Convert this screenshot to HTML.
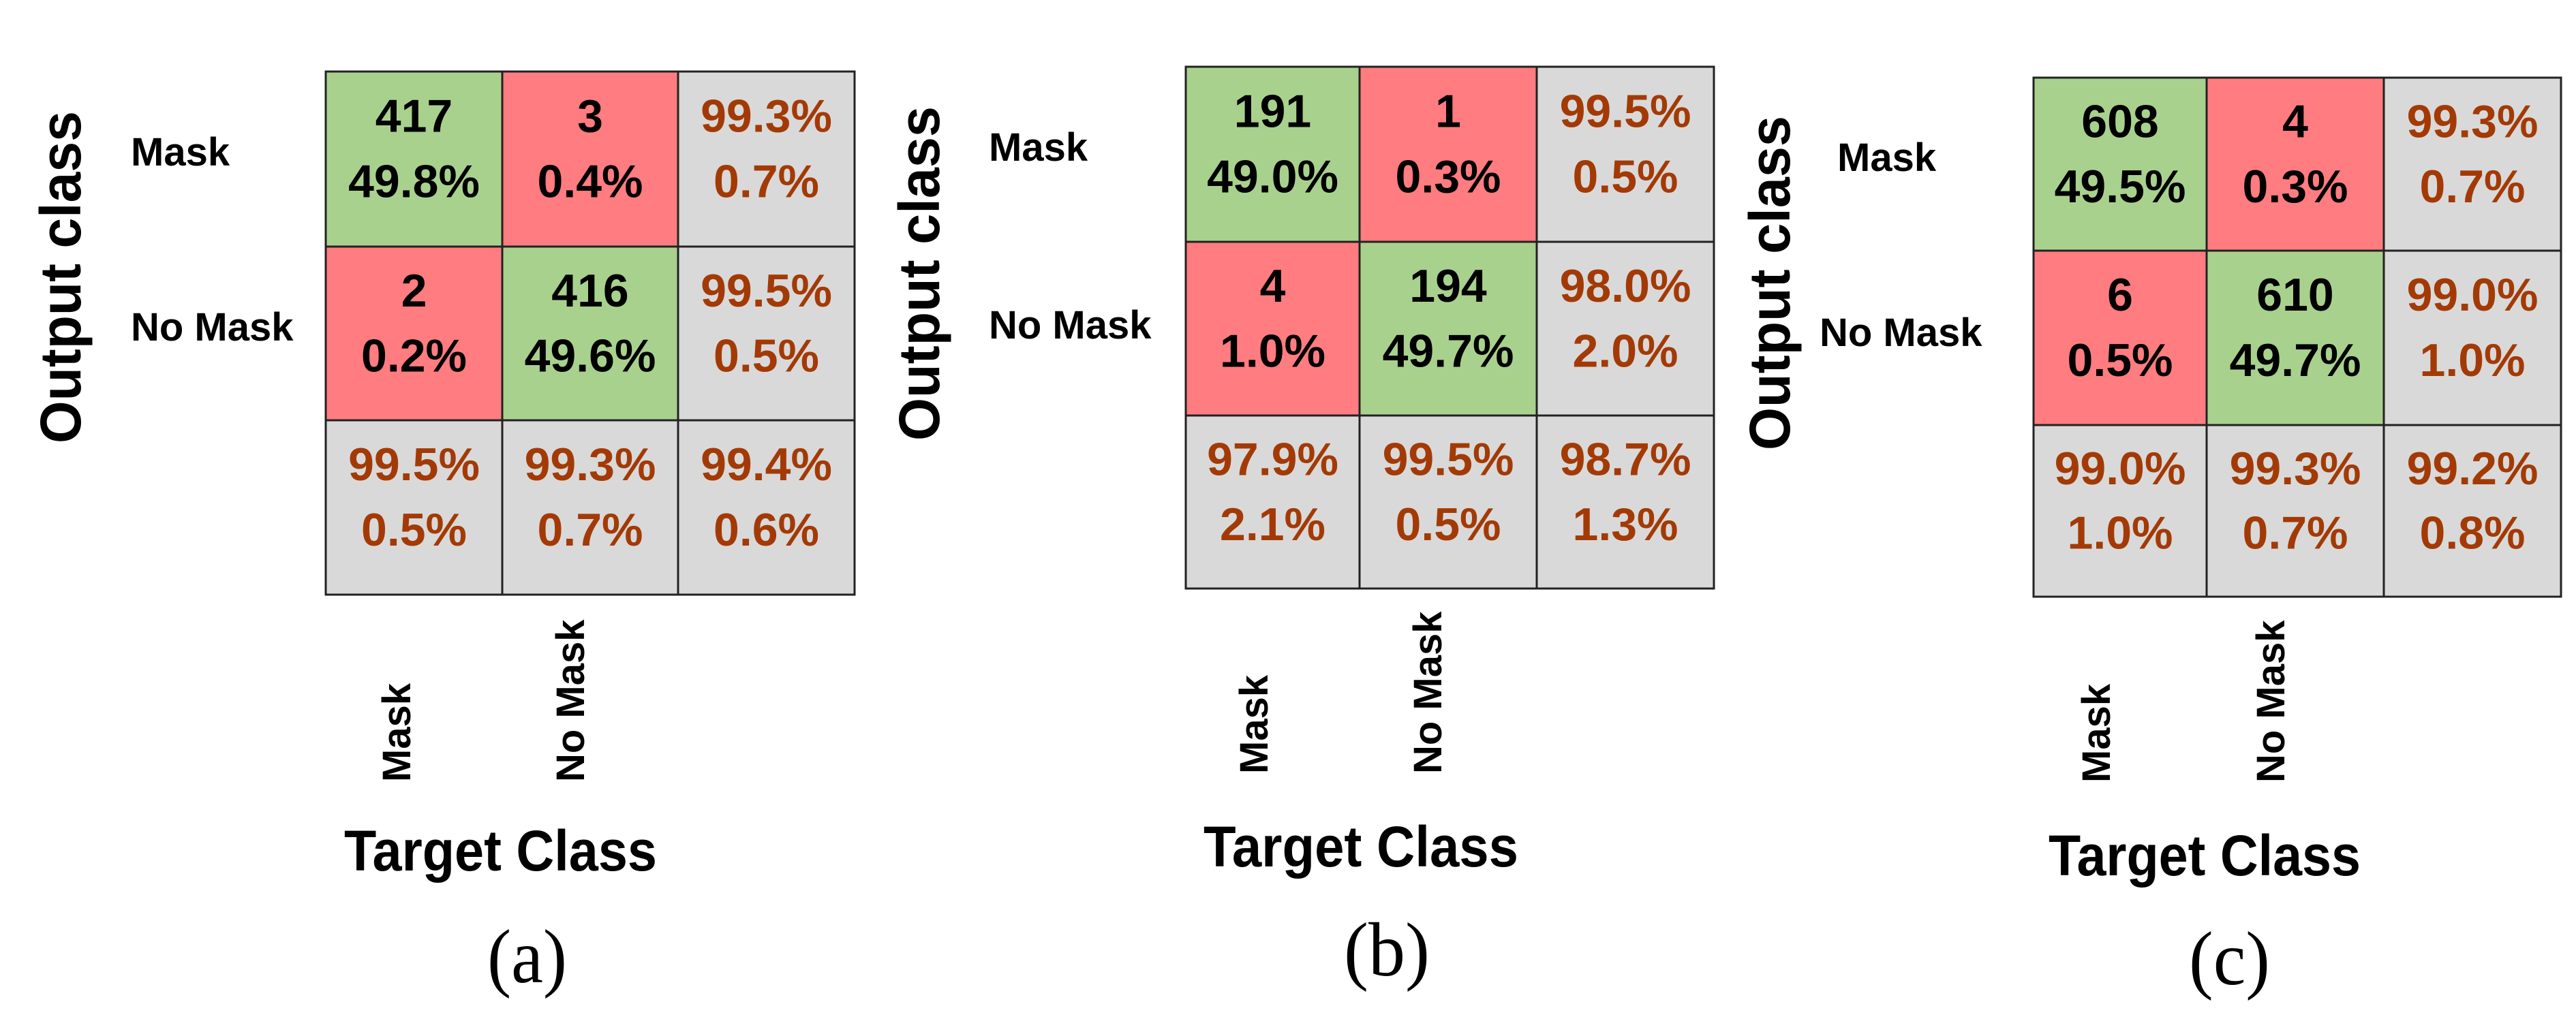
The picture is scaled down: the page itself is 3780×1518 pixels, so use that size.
<!DOCTYPE html>
<html><head><meta charset="utf-8"><style>
html,body{margin:0;padding:0;background:#fff;}
svg{display:block;}
</style></head><body>
<svg id="fig" width="3780" height="1518" viewBox="0 0 3780 1518" xmlns="http://www.w3.org/2000/svg" font-family="'Liberation Sans', sans-serif"></svg>
<script>
// ---- data ----
const classLabels = ["Mask", "No Mask"];
const panelLetters = ["(a)", "(b)", "(c)"];
const countsA = [[417, 3], [2, 416]];
const countsB = [[191, 1], [4, 194]];
const countsC = [[608, 4], [6, 610]];
const cellPctA = [["49.8%", "0.4%"], ["0.2%", "49.6%"]];
const cellPctB = [["49.0%", "0.3%"], ["1.0%", "49.7%"]];
const cellPctC = [["49.5%", "0.3%"], ["0.5%", "49.7%"]];
const rowSummaryA = [["99.3%", "0.7%"], ["99.5%", "0.5%"]];
const rowSummaryB = [["99.5%", "0.5%"], ["98.0%", "2.0%"]];
const rowSummaryC = [["99.3%", "0.7%"], ["99.0%", "1.0%"]];
const colSummaryA = [["99.5%", "0.5%"], ["99.3%", "0.7%"], ["99.4%", "0.6%"]];
const colSummaryB = [["97.9%", "2.1%"], ["99.5%", "0.5%"], ["98.7%", "1.3%"]];
const colSummaryC = [["99.0%", "1.0%"], ["99.3%", "0.7%"], ["99.2%", "0.8%"]];

// ---- layout (pixels) ----
const layouts = [
  {xs:[478,737,995,1254], ys:[105,362,617,873], rowX:[192,192], rowBase:[243,500], ocX:118, ocY:[163,651],
   colX:[602,857], colBottom:1148, tcX:[505,964], tcBase:1278, lX:[715,832], lBase:1442},
  {xs:[1740,1995,2255,2515], ys:[98,355,610,864], rowX:[1451,1451], rowBase:[236,497], ocX:1378, ocY:[156,647],
   colX:[1860,2115], colBottom:1136, tcX:[1766,2228], tcBase:1272, lX:[1972,2098], lBase:1432},
  {xs:[2984,3238,3498,3758], ys:[114,368,624,876], rowX:[2696,2670], rowBase:[251,508], ocX:2626, ocY:[170,661],
   colX:[3096,3352], colBottom:1149, tcX:[3006,3464], tcBase:1285, lX:[3212,3331], lBase:1445}
];
const panels = [
  {counts:countsA, pct:cellPctA, rs:rowSummaryA, cs:colSummaryA},
  {counts:countsB, pct:cellPctB, rs:rowSummaryB, cs:colSummaryB},
  {counts:countsC, pct:cellPctC, rs:rowSummaryC, cs:colSummaryC}
];

const NS = "http://www.w3.org/2000/svg";
const svg = document.getElementById("fig");
function mk(tag, attrs, parent, text) {
  const e = document.createElementNS(NS, tag);
  for (const k in attrs) e.setAttribute(k, attrs[k]);
  if (text !== undefined) e.textContent = text;
  parent.appendChild(e);
  return e;
}
const GREEN = "#a9d18e", RED = "#ff7c80", GRAY = "#d9d9d9", BROWN = "#a33a05";

panels.forEach((p, pi) => {
  const L = layouts[pi];
  const g = mk("g", {}, svg);
  
  
  for (let r = 0; r < 3; r++) {
    for (let c = 0; c < 3; c++) {
      const x0 = L.xs[c], x1 = L.xs[c+1], y0 = L.ys[r], y1 = L.ys[r+1];
      let fill, t1, t2, col;
      if (r < 2 && c < 2) { fill = (r === c) ? GREEN : RED; t1 = String(p.counts[r][c]); t2 = p.pct[r][c]; col = "#000"; }
      else if (r < 2) { fill = GRAY; t1 = p.rs[r][0]; t2 = p.rs[r][1]; col = BROWN; }
      else { fill = GRAY; t1 = p.cs[c][0]; t2 = p.cs[c][1]; col = BROWN; }
      const cell = mk("g", {}, g);
      
      
      mk("rect", {x:x0, y:y0, width:x1-x0, height:y1-y0, fill:fill, stroke:"#222", "stroke-width":3}, cell);
      const cx = (x0+x1)/2, h = y1-y0;
      const a = mk("text", {x:cx, y:y0+0.25*h+24, "text-anchor":"middle", "font-size":68, "font-weight":"bold", fill:col}, cell, t1);
      
      
      const b = mk("text", {x:cx, y:y0+0.625*h+24, "text-anchor":"middle", "font-size":68, "font-weight":"bold", fill:col}, cell, t2);
      
      
    }
  }
  // row labels
  classLabels.forEach((lab, i) => {
    const t = mk("text", {x:L.rowX[i], y:L.rowBase[i], "font-size":58, "font-weight":"bold", fill:"#000"}, g, lab);
    
    
    const ct = mk("text", {x:0, y:0, "font-size":58, "font-weight":"bold", fill:"#000",
      transform:"translate(" + L.colX[i] + "," + L.colBottom + ") rotate(-90)"}, g, lab);
    
    
  });
  const oc = mk("text", {x:0, y:0, "font-size":84, "font-weight":"bold", fill:"#000",
    textLength:(L.ocY[1]-L.ocY[0]), lengthAdjust:"spacingAndGlyphs",
    transform:"translate(" + L.ocX + "," + L.ocY[1] + ") rotate(-90)"}, g, "Output class");
  
  
  const tc = mk("text", {x:L.tcX[0], y:L.tcBase, "font-size":84, "font-weight":"bold", fill:"#000",
    textLength:(L.tcX[1]-L.tcX[0]), lengthAdjust:"spacingAndGlyphs"}, g, "Target Class");
  
  
  const pl = mk("text", {x:L.lX[0], y:L.lBase, "font-size":112, fill:"#000", "font-family":"'Liberation Serif', serif",
    textLength:(L.lX[1]-L.lX[0]), lengthAdjust:"spacingAndGlyphs"}, g, panelLetters[pi]);
  
  
});
</script>
</body></html>
